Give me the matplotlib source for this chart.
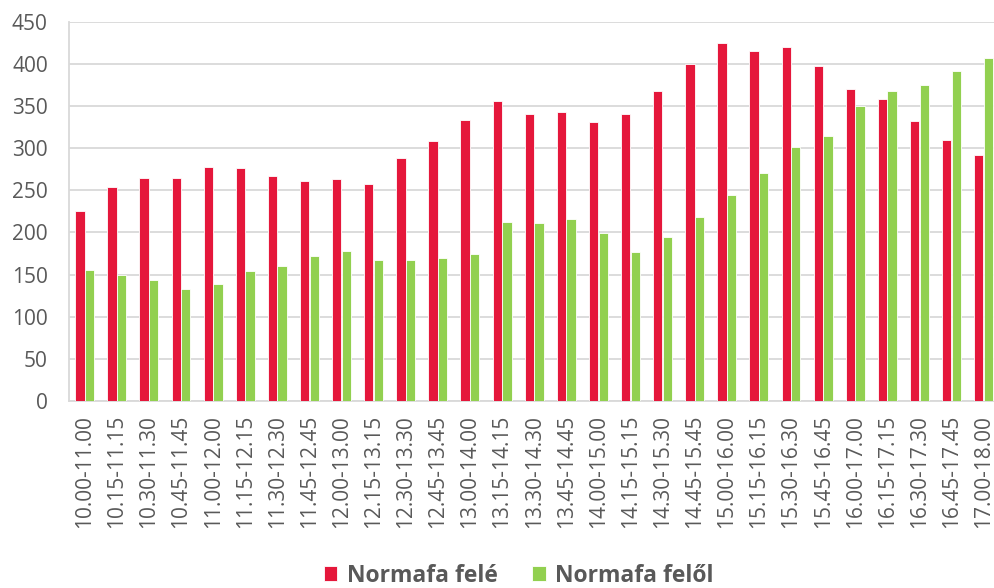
import matplotlib
matplotlib.use('Agg')
import matplotlib.pyplot as plt
import numpy as np

plt.rcParams['font.family'] = ['Open Sans', 'DejaVu Sans']

# time slots (15-minute steps, one hour windows)
categories = ['10.00-11.00', '10.15-11.15', '10.30-11.30', '10.45-11.45',
              '11.00-12.00', '11.15-12.15', '11.30-12.30', '11.45-12.45',
              '12.00-13.00', '12.15-13.15', '12.30-13.30', '12.45-13.45',
              '13.00-14.00', '13.15-14.15', '13.30-14.30', '13.45-14.45',
              '14.00-15.00', '14.15-15.15', '14.30-15.30', '14.45-15.45',
              '15.00-16.00', '15.15-16.15', '15.30-16.30', '15.45-16.45',
              '16.00-17.00', '16.15-17.15', '16.30-17.30', '16.45-17.45',
              '17.00-18.00']
fele = [226, 254, 265, 265, 278, 276, 267, 261, 263, 257, 288, 309, 334, 356,
        340, 343, 331, 341, 368, 400, 425, 415, 420, 397, 370, 358, 332, 310, 292]
felol = [156, 150, 143, 133, 139, 154, 160, 172, 178, 167, 167, 170, 174, 212,
         211, 216, 199, 177, 195, 218, 245, 271, 301, 314, 350, 368, 375, 392, 407]
series_names = ['Normafa felé', 'Normafa felől']

red = '#E5173B'
green = '#92D050'
grey = '#595959'

fig = plt.figure(figsize=(9.95, 5.88), dpi=100)
ax = fig.add_axes([0.069, 0.318, 0.9357, 0.645])

x = np.arange(len(categories))
w = 0.29
ax.bar(x - 0.15, fele, w, color=red, edgecolor='white', linewidth=0.6,
       label=series_names[0], zorder=3)
ax.bar(x + 0.15, felol, w, color=green, edgecolor='white', linewidth=0.6,
       label=series_names[1], zorder=3)

ax.set_xlim(-0.5, len(categories) - 0.5)
ax.set_ylim(0, 450)
ax.set_yticks(range(0, 451, 50))
ax.yaxis.grid(True, color='#D9D9D9', linewidth=1.3, zorder=0)
ax.set_axisbelow(True)

ax.set_xticks(x)
ax.set_xticklabels(categories, rotation=90, fontsize=15, color=grey)
ax.tick_params(axis='y', labelsize=15, labelcolor=grey, length=0, pad=15)
ax.tick_params(axis='x', length=0, pad=10)

for s in ['top', 'right']:
    ax.spines[s].set_visible(False)
for s in ['left', 'bottom']:
    ax.spines[s].set_color('#D9D9D9')
    ax.spines[s].set_linewidth(1.3)

leg = fig.legend(loc='center', bbox_to_anchor=(0.521, 0.021), ncol=2,
                 frameon=False, handlelength=0.6, handleheight=0.6,
                 handletextpad=0.4, columnspacing=1.5,
                 prop={'size': 16.5, 'weight': 'bold'})
for t in leg.get_texts():
    t.set_color(grey)

fig.savefig('out.png', dpi=100)
